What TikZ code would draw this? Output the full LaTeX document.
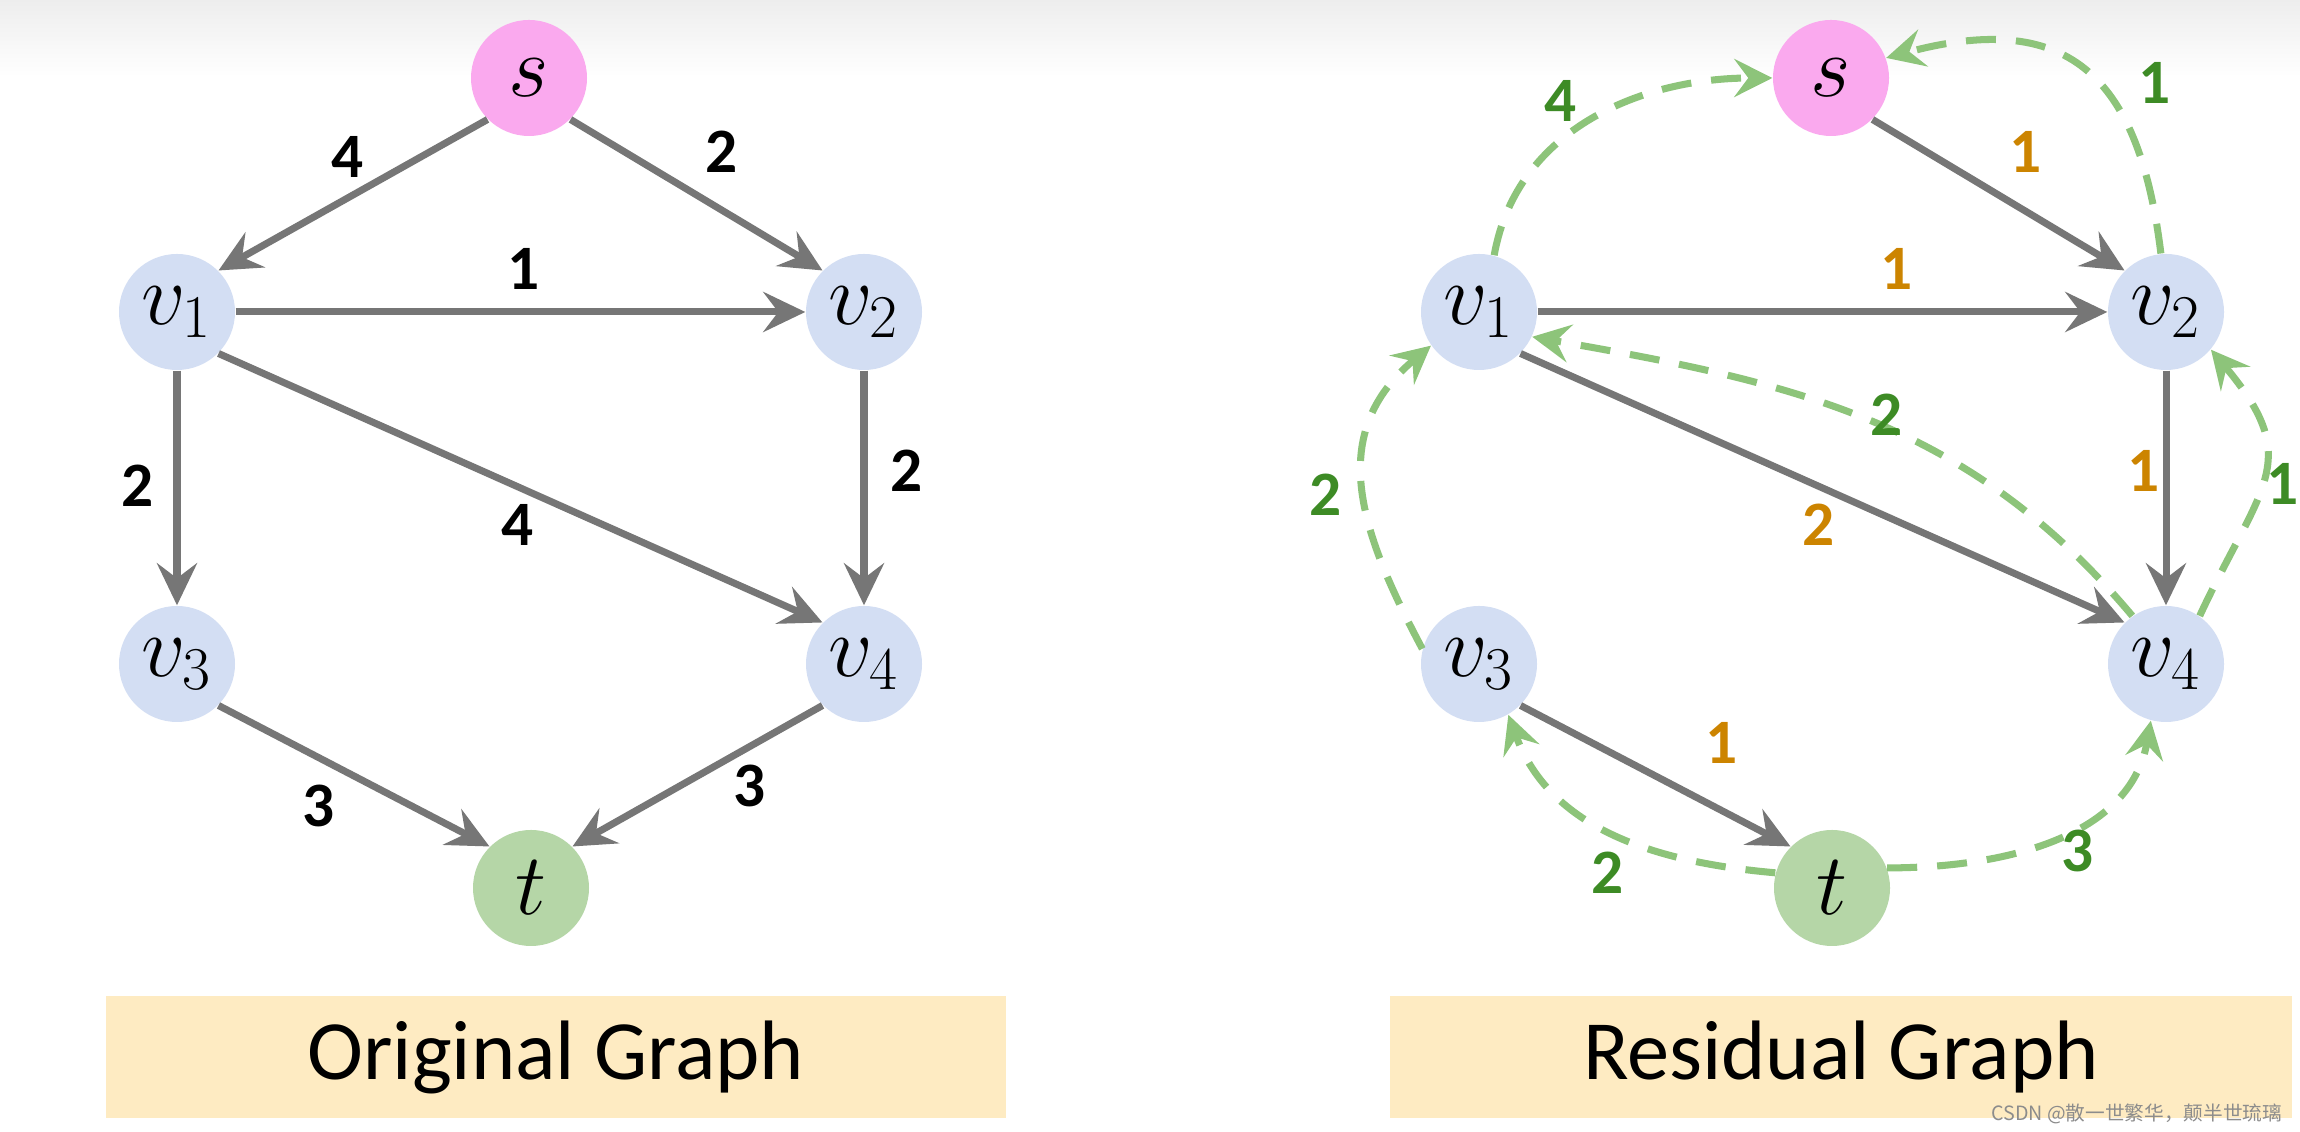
\documentclass[tikz,border=0pt]{standalone}
\usepackage{fontspec}
\newfontfamily\carlito{Carlito}
\newfontfamily\cjk{Noto Sans CJK SC}
\usepackage{tikz}
\usetikzlibrary{arrows.meta}
\definecolor{edgegray}{HTML}{767676}
\definecolor{spink}{HTML}{FAA9EE}
\definecolor{vblue}{HTML}{D3DEF3}
\definecolor{tgreen}{HTML}{B5D6A7}
\definecolor{resgreen}{HTML}{8DC47A}
\definecolor{labgreen}{HTML}{3D8B25}
\definecolor{laborange}{HTML}{CC8400}
\definecolor{boxyellow}{HTML}{FEEBC2}

\begin{document}
\begin{tikzpicture}[
			vnode/.style={circle, minimum size=1.16cm, inner sep=0pt, font=\fontsize{23}{23}\selectfont},
			edge/.style={-{Stealth[length=0.42cm, width=0.4cm, inset=0.15cm]}, line width=2pt, edgegray},
			resedge/.style={-{Stealth[length=0.38cm, width=0.38cm, inset=0.14cm]}, line width=2pt, resgreen, dash pattern=on 0.3cm off 0.2cm},
			wlabel/.style={font=\carlito\bfseries\fontsize{18}{18}\selectfont, inner sep=0pt},
			titlebox/.style={fill=boxyellow, minimum height=1.22cm, font=\carlito\fontsize{24}{24}\selectfont}
			]
			\clip (0,0) rectangle (23,11.32);
			\fill[white] (0,0) rectangle (23,11.32);
			\shade[top color=black!7, bottom color=white] (0,11.32) rectangle (23,10.55);
			\node[vnode, fill=spink] (sL) at (5.29,10.54) {$s$};
			\node[vnode, fill=vblue] (v1L) at (1.77,8.20) {$v_1$};
			\node[vnode, fill=vblue] (v2L) at (8.64,8.20) {$v_2$};
			\node[vnode, fill=vblue] (v3L) at (1.77,4.68) {$v_3$};
			\node[vnode, fill=vblue] (v4L) at (8.64,4.68) {$v_4$};
			\node[vnode, fill=tgreen] (tL) at (5.31,2.44) {$t$};
			\draw[edge] (sL.-135)--(v1L.45);
			\draw[edge] (sL.-45)--(v2L.135);
			\draw[edge] (v1L)--(v2L);
			\draw[edge] (v1L)--(v3L);
			\draw[edge] (v1L.-45)--(v4L.135);
			\draw[edge] (v2L)--(v4L);
			\draw[edge] (v3L.-45)--(tL.135);
			\draw[edge] (v4L.-135)--(tL.45);
			\node[wlabel] (a1) at (3.48,9.75) {4};
			\node[wlabel] (a2) at (7.22,9.80) {2};
			\node[wlabel] (a3) at (5.24,8.63) {1};
			\node[wlabel] (a4) at (1.38,6.46) {2};
			\node[wlabel] (a5) at (5.18,6.07) {4};
			\node[wlabel] (a6) at (9.07,6.61) {2};
			\node[wlabel] (a7) at (3.19,3.26) {3};
			\node[wlabel] (a8) at (7.50,3.46) {3};
			\node[titlebox, minimum width=9cm] (titleL) at (5.56,0.75) {Original Graph};
			\node[vnode, fill=spink] (sR) at (18.31,10.54) {$s$};
			\node[vnode, fill=vblue] (v1R) at (14.79,8.20) {$v_1$};
			\node[vnode, fill=vblue] (v2R) at (21.66,8.20) {$v_2$};
			\node[vnode, fill=vblue] (v3R) at (14.79,4.68) {$v_3$};
			\node[vnode, fill=vblue] (v4R) at (21.66,4.68) {$v_4$};
			\node[vnode, fill=tgreen] (tR) at (18.32,2.44) {$t$};
			\draw[edge] (sR.-45)--(v2R.135);
			\draw[edge] (v1R)--(v2R);
			\draw[edge] (v1R.-45)--(v4R.135);
			\draw[edge] (v2R)--(v4R);
			\draw[edge] (v3R.-45)--(tR.135);
			\draw[resedge] (v1R.75) to[out=80, in=180] (sR.west);
			\draw[resedge] (v2R.95) to[out=97, in=15, looseness=1.4] (sR.20);
			\draw[resedge] (v4R.125) to[out=130, in=-10] (v1R.-25);
			\draw[resedge] (v3R.165) to[out=118, in=220, looseness=1.15] (v1R.215);
			\draw[resedge] (v4R.55) to[out=65, in=-50, looseness=1.4] (v2R.-40);
			\draw[resedge] (tR.165) to[out=175, in=-70] (v3R.-60);
			\draw[resedge] (tR.20) to[out=0, in=-100] (v4R.-105);
			\node[wlabel, laborange] (b1) at (20.26,9.80) {1};
			\node[wlabel, laborange] (b2) at (18.97,8.63) {1};
			\node[wlabel, laborange] (b3) at (21.44,6.61) {1};
			\node[wlabel, laborange] (b4) at (18.19,6.07) {2};
			\node[wlabel, laborange] (b5) at (17.22,3.89) {1};
			\node[wlabel, labgreen] (c1) at (15.61,10.31) {4};
			\node[wlabel, labgreen] (c2) at (21.55,10.49) {1};
			\node[wlabel, labgreen] (c3) at (18.87,7.17) {2};
			\node[wlabel, labgreen] (c4) at (13.26,6.37) {2};
			\node[wlabel, labgreen] (c5) at (22.83,6.48) {1};
			\node[wlabel, labgreen] (c6) at (16.08,2.59) {2};
			\node[wlabel, labgreen] (c7) at (20.78,2.81) {3};
			\node[titlebox, minimum width=9.02cm] (titleR) at (18.41,0.75) {Residual Graph};
			\node[anchor=east, inner sep=0pt, text=black!45, font=\cjk\fontsize{5.6}{6}\selectfont] (wm) at (22.83,0.18) {CSDN @散一世繁华，颠半世琉璃};
		\end{tikzpicture}
\end{document}
